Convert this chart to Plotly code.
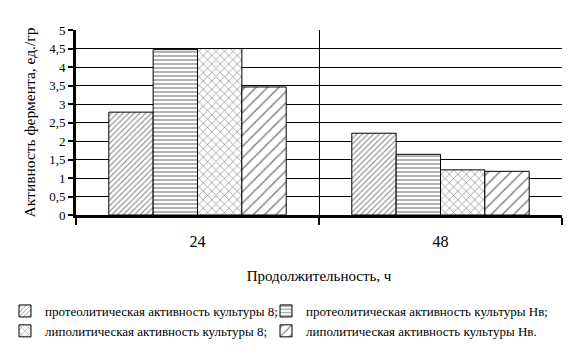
import plotly.graph_objects as go

categories = ["24", "48"]
series_names = [
    "протеолитическая активность культуры 8;",
    "протеолитическая активность культуры Нв;",
    "липолитическая активность культуры 8;",
    "липолитическая активность культуры Нв.",
]
prot_8 = [2.78, 2.21]
prot_nv = [4.47, 1.64]
lip_8 = [4.5, 1.22]
lip_nv = [3.46, 1.18]
y_ticks = [0, 0.5, 1, 1.5, 2, 2.5, 3, 3.5, 4, 4.5, 5]

values = [prot_8, prot_nv, lip_8, lip_nv]
legend_ids = ["legend", "legend2", "legend", "legend2"]
patterns = [
    dict(shape="/", size=4, solidity=0.25),
    dict(shape="-", size=4, solidity=0.3),
    dict(shape="x", size=6, solidity=0.2),
    dict(shape="/", size=8, solidity=0.18),
]

FONT = "Liberation Serif, Times New Roman, serif"

W, H = 579, 355
L, R, T, B = 76, 17, 30, 140
PW, PH = W - L - R, H - T - B

fig = go.Figure()
for name, vals, pat, lg in zip(series_names, values, patterns, legend_ids):
    fig.add_trace(go.Bar(
        x=categories, y=vals, name=name, legend=lg,
        marker=dict(
            color="white",
            line=dict(color="black", width=1),
            pattern=dict(fgcolor="black", bgcolor="white", fillmode="overlay", **pat),
        ),
    ))

legend_common = dict(
    orientation="v", xanchor="left", yanchor="top",
    font=dict(family=FONT, size=13, color="black"),
    itemwidth=30, tracegroupgap=0, traceorder="normal",
    bgcolor="rgba(0,0,0,0)", borderwidth=0,
)
leg_top = 296

fig.update_layout(
    width=W, height=H,
    margin=dict(l=L, r=R, t=T, b=B, autoexpand=False),
    paper_bgcolor="white", plot_bgcolor="white",
    barmode="group", bargap=0.27, bargroupgap=0,
    separators=", ",
    font=dict(family=FONT, color="black", size=13),
    showlegend=True,
    legend=dict(x=(5 - L) / PW, y=(T + PH - leg_top) / PH, **legend_common),
    legend2=dict(x=(266 - L) / PW, y=(T + PH - leg_top) / PH, **legend_common),
    xaxis=dict(
        type="category", range=[-0.5, 1.5], automargin=False,
        tickson="boundaries", ticks="outside", ticklen=7, tickwidth=2, tickcolor="black",
        showgrid=True, gridcolor="black", gridwidth=1,
        showline=True, linecolor="black", linewidth=3,
        tickfont=dict(family=FONT, size=16, color="black"),
        ticklabelstandoff=10,
        title=dict(text="Продолжительность, ч", font=dict(family=FONT, size=15, color="black"), standoff=22),
    ),
    yaxis=dict(
        range=[0, 5], tickvals=y_ticks, automargin=False,
        ticks="outside", ticklen=5, tickwidth=2, tickcolor="black",
        showgrid=True, gridcolor="black", gridwidth=1,
        showline=True, linecolor="black", linewidth=3,
        zeroline=False,
        tickfont=dict(family=FONT, size=13, color="black"),
        title=dict(text="Активность фермента, ед./гр", font=dict(family=FONT, size=15.5, color="black"), standoff=10),
    ),
)

fig.write_html("out.html")
